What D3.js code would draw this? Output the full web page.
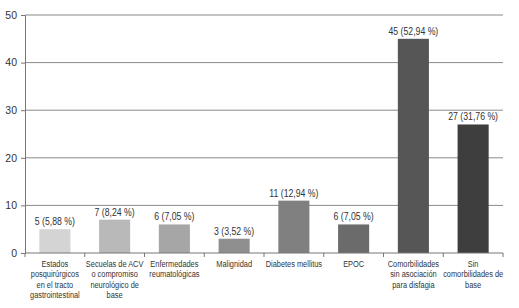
<!DOCTYPE html>
<html>
<head>
<meta charset="utf-8">
<script src="https://cdn.jsdelivr.net/npm/d3@7"></script>
<style>
  body { margin: 0; background: #fff; }
  text { font-family: "Liberation Sans", Arial, sans-serif; fill: #333; }
</style>
</head>
<body>
<div id="chart"></div>
<script>
const categories = [
    ["Estados", "posquirúrgicos", "en el tracto", "gastrointestinal"],
    ["Secuelas de ACV", "o compromiso", "neurológico de", "base"],
    ["Enfermedades", "reumatológicas"],
    ["Malignidad"],
    ["Diabetes mellitus"],
    ["EPOC"],
    ["Comorbilidades", "sin asociación", "para disfagia"],
    ["Sin", "comorbilidades de", "base"]
];
const counts = [5, 7, 6, 3, 11, 6, 45, 27];
const percents = ["5,88", "8,24", "7,05", "3,52", "12,94", "7,05", "52,94", "31,76"];
const barColors = ["#d4d4d4", "#b9b9b9", "#a6a6a6", "#8f8f8f", "#808080", "#6b6b6b", "#565656", "#3e3e3e"];
const yTicks = [0, 10, 20, 30, 40, 50];

const width = 519, height = 308;
const margin = { top: 15, right: 16, bottom: 55, left: 25 };
const squeeze = 0.78; // the source font is a condensed one

const svg = d3.select("#chart")
    .append("svg")
    .attr("width", width)
    .attr("height", height);

const x = d3.scaleBand()
    .domain(d3.range(counts.length))
    .range([margin.left, width - margin.right])
    .paddingInner(0.48)
    .paddingOuter(0.24);

const y = d3.scaleLinear()
    .domain([0, 50])
    .range([height - margin.bottom, margin.top]);

// gridlines
svg.append("g")
    .selectAll("line")
    .data(yTicks.slice(1))
    .enter().append("line")
    .attr("x1", margin.left)
    .attr("x2", width - margin.right)
    .attr("y1", d => y(d))
    .attr("y2", d => y(d))
    .attr("stroke", "#8a8a8a")
    .attr("stroke-width", 1);

// bars
svg.append("g")
    .selectAll("rect")
    .data(counts)
    .enter().append("rect")
    .attr("x", (d, i) => x(i))
    .attr("y", d => y(d))
    .attr("width", x.bandwidth())
    .attr("height", d => y(0) - y(d))
    .attr("fill", (d, i) => barColors[i]);

// value labels
svg.append("g")
    .selectAll("g")
    .data(counts)
    .enter().append("g")
    .attr("transform", (d, i) => `translate(${x(i) + x.bandwidth() / 2},${y(d) - 4})`)
    .append("text")
    .attr("transform", `scale(${squeeze + 0.05},1)`)
    .attr("text-anchor", "middle")
    .style("font-size", "10.5px")
    .text((d, i) => `${d} (${percents[i]} %)`);

// y axis
const yAxis = svg.append("g")
    .attr("transform", `translate(${margin.left},0)`)
    .call(d3.axisLeft(y).tickValues(yTicks).tickSize(4).tickPadding(4));
yAxis.select(".domain").attr("stroke", "#777");
yAxis.selectAll(".tick line").attr("stroke", "#777");
yAxis.selectAll(".tick text")
    .style("font-size", "10.5px")
    .style("font-family", "'Liberation Sans', Arial, sans-serif")
    .attr("fill", "#333");

// x axis baseline with separator ticks
const x0 = margin.left;
const x1 = width - margin.right;
svg.append("line")
    .attr("x1", x0)
    .attr("x2", x1)
    .attr("y1", y(0))
    .attr("y2", y(0))
    .attr("stroke", "#777");
svg.append("g")
    .selectAll("line")
    .data(d3.range(counts.length + 1))
    .enter().append("line")
    .attr("x1", i => x0 + i * (x1 - x0) / counts.length)
    .attr("x2", i => x0 + i * (x1 - x0) / counts.length)
    .attr("y1", y(0))
    .attr("y2", y(0) + 4)
    .attr("stroke", "#777");

// category labels
const labels = svg.append("g")
    .selectAll("g")
    .data(categories)
    .enter().append("g")
    .attr("transform", (d, i) => `translate(${x(i) + x.bandwidth() / 2},${y(0) + 14})`)
    .append("text")
    .attr("transform", `scale(${squeeze},1)`)
    .attr("text-anchor", "middle")
    .style("font-size", "9.5px");
labels.selectAll("tspan")
    .data(d => d)
    .enter().append("tspan")
    .attr("x", 0)
    .attr("dy", (d, i) => i === 0 ? 0 : 10.3)
    .text(d => d);
</script>
</body>
</html>
